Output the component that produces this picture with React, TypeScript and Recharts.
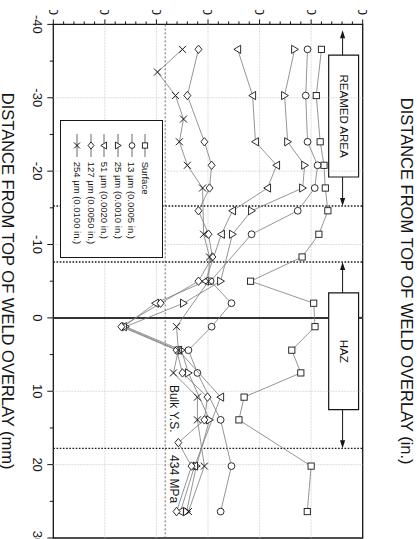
import React from 'react';
import {
  ComposedChart,
  Scatter,
  XAxis,
  YAxis,
  ReferenceLine,
  ReferenceArea,
  ReferenceDot,
  Legend,
} from 'recharts';

// measurement rows along the overlay (mm from top of weld overlay)
const POSITION_MM = [
  -36.6, -33.5, -30.3, -27.1, -24.0, -20.8, -17.7, -14.6, -11.4, -8.3,
  -5.0, -2.0, 1.2, 4.4, 7.5, 10.8, 13.9, 17.0, 20.2, 26.4,
];

// yield strength (MPa) per row, null = no measurement at that row
const SURFACE = [1040, null, 1020, null, 1035, 1050, 1055, 1065, 1030, 965, 765, 1010, 1015, 925, 960, 740, 720, null, 1000, 985];
const UM13 = [986, null, 979, null, 986, 1025, 1014, 948, 769, null, 610, 691, 614, 524, 559, null, 649, null, 691, 649];
const UM25 = [936, null, 897, null, 909, 975, 967, 769, 695, null, 649, 505, 280, 497, 524, null, 606, null, 555, 517];
const UM51 = [715, null, 773, null, 784, 866, 831, 695, 652, null, 590, 396, 272, 485, null, 649, null, null, 548, 493];
const UM127 = [563, null, 520, null, 586, 614, 606, 563, 602, 617, 563, 416, 264, 478, 501, 598, 586, 485, 536, 478];
const UM254 = [501, 404, 474, 505, 489, 520, 579, null, 583, 606, 602, null, 478, 485, 466, 559, 559, null, 586, 524];

const MM_TICKS = [-40, -35, -30, -25, -20, -15, -10, -5, 0, 5, 10, 15, 20, 25, 30];
const IN_TICKS = [-1.5, -1.25, -1.0, -0.75, -0.5, -0.25, 0, 0.25, 0.5, 0.75, 1.0];
const MPA_TICKS = Array.from({ length: 31 }, (_, i) => i * 40);

const GRID_MM = [-30, -20, -10, 10, 20];
const GRID_MPA = [200, 400, 600, 800, 1000];
const ZONE_LINES_MM = [-15.24, -7.62, 17.78];
const BULK_YS = 434;

// annotation boxes (mm range) and arrow tips
const REAMED = { from: -35.8, to: -19.2, tips: [-39.2, -15.24] };
const HAZ = { from: -3.4, to: 12.5, tips: [-7.62, 17.78] };
const BOX_MPA = [1068, 1184];
const ARROW_MPA = 1122;

const SERIES = [
  { name: 'Surface', values: SURFACE, marker: 'square' },
  { name: '13 µm (0.0005 in.)', values: UM13, marker: 'circle' },
  { name: '25 µm (0.0010 in.)', values: UM25, marker: 'up' },
  { name: '51 µm (0.0020 in.)', values: UM51, marker: 'down' },
  { name: '127 µm (0.0050 in.)', values: UM127, marker: 'diamond' },
  { name: '254 µm (0.0100 in.)', values: UM254, marker: 'x' },
];

const INK = '#161616';
const FONT = '"Liberation Sans", Arial, Helvetica, sans-serif';

function Marker({ kind, cx, cy, k = 1 }: { kind: string; cx: number; cy: number; k?: number }) {
  const st = { fill: '#fff', stroke: INK, strokeWidth: 0.9 };
  if (kind === 'square') {
    return <rect x={cx - 3.1 * k} y={cy - 3.1 * k} width={6.2 * k} height={6.2 * k} {...st} />;
  }
  if (kind === 'circle') return <circle cx={cx} cy={cy} r={3.4 * k} {...st} />;
  if (kind === 'up') {
    return <polygon points={`${cx},${cy - 3.8 * k} ${cx + 4.1 * k},${cy + 3 * k} ${cx - 4.1 * k},${cy + 3 * k}`} {...st} />;
  }
  if (kind === 'down') {
    return <polygon points={`${cx},${cy + 3.8 * k} ${cx + 4.1 * k},${cy - 3 * k} ${cx - 4.1 * k},${cy - 3 * k}`} {...st} />;
  }
  if (kind === 'diamond') {
    return <polygon points={`${cx},${cy - 3.5 * k} ${cx + 4.2 * k},${cy} ${cx},${cy + 3.5 * k} ${cx - 4.2 * k},${cy}`} {...st} />;
  }
  const h = 3.5 * k;
  return (
    <g stroke={INK} strokeWidth={1}>
      <line x1={cx - h} y1={cy - h} x2={cx + h} y2={cy + h} />
      <line x1={cx - h} y1={cy + h} x2={cx + h} y2={cy - h} />
    </g>
  );
}

const isMult = (v: number, step: number) => Math.abs(v / step - Math.round(v / step)) < 1e-6;

function MmTick({ x, y, payload }: any) {
  const v = payload.value;
  const major = isMult(v, 10);
  return (
    <g>
      <line x1={x} x2={x} y1={y} y2={y + (major ? 6 : 3.5)} stroke={INK} strokeWidth={1} />
      {major && (
        <text x={x} y={y + 20.6} textAnchor="middle" fontSize={13} fill={INK}>
          {v}
        </text>
      )}
    </g>
  );
}

function InchTick({ x, y, payload }: any) {
  const v = payload.value;
  const major = isMult(v, 0.5);
  return (
    <g>
      <line x1={x} x2={x} y1={y} y2={y - (major ? 6 : 3.5)} stroke={INK} strokeWidth={1} />
      {major && (
        <text x={x} y={y - 14.3} textAnchor="middle" fontSize={13} fill={INK}>
          {v.toFixed(1)}
        </text>
      )}
    </g>
  );
}

function StressTick({ x, y, payload }: any) {
  const v = payload.value;
  const major = isMult(v, 200);
  return (
    <g>
      <line x1={x} x2={x - (major ? 5 : 3)} y1={y} y2={y} stroke={INK} strokeWidth={1} />
      {major && (
        <text x={x - 9.5} y={y} dy="0.35em" textAnchor="end" fontSize={13} fill={INK}>
          {v}
        </text>
      )}
    </g>
  );
}

const arrowShape = (p: any) => {
  const { x1, y1, x2, y2 } = p;
  const d = Math.sign(x2 - x1);
  return (
    <g>
      <line x1={x1} y1={y1} x2={x2 - d * 5} y2={y2} stroke={INK} strokeWidth={1} />
      <path d={`M${x2},${y2} L${x2 - d * 8},${y2 - 2.6} L${x2 - d * 8},${y2 + 2.6} Z`} fill={INK} />
    </g>
  );
};

const renderLegend = () => (
  <div
    style={{
      boxSizing: 'border-box',
      width: 138,
      height: 103,
      border: `1.3px solid ${INK}`,
      background: '#fff',
      padding: '10px 0 0 12.7px',
      fontFamily: FONT,
    }}
  >
    {SERIES.map((s) => (
      <div key={s.name} style={{ display: 'flex', alignItems: 'center', height: 13.6 }}>
        <svg width={23} height={12} style={{ display: 'block' }}>
          <line x1={0} x2={23} y1={6} y2={6} stroke="#444" strokeWidth={0.8} />
          <Marker kind={s.marker} cx={11.5} cy={6} k={0.85} />
        </svg>
        <span style={{ marginLeft: 5, fontSize: 9.5, lineHeight: '13.6px', color: INK, whiteSpace: 'nowrap' }}>
          {s.name}
        </span>
      </div>
    ))}
  </div>
);

export default function App() {
  const seriesData = SERIES.map((s) => ({
    ...s,
    points: POSITION_MM.map((mm, i) => ({ mm, mpa: s.values[i] })).filter((p) => p.mpa !== null),
  }));

  return (
    <div
      style={{
        position: 'absolute',
        left: 0,
        top: 0,
        width: 417,
        height: 539,
        overflow: 'hidden',
        background: '#fff',
        fontFamily: FONT,
      }}
    >
      <div
        style={{
          position: 'absolute',
          left: 0,
          top: 0,
          width: 529,
          height: 417,
          overflow: 'hidden',
          transformOrigin: '0 0',
          transform: 'translate(417px, 10px) rotate(90deg)',
        }}
      >
        <ComposedChart width={529} height={417} margin={{ top: 0, right: 1, bottom: 0, left: 0 }}>
          <XAxis
            dataKey="mm"
            type="number"
            domain={[-40, 30]}
            ticks={MM_TICKS}
            interval={0}
            allowDataOverflow
            height={53.3}
            axisLine={false}
            tickLine={false}
            tickSize={0}
            tickMargin={0}
            tick={(p: any) => <MmTick {...p} />}
            label={{
              value: 'DISTANCE FROM TOP OF WELD OVERLAY (mm)',
              position: 'insideBottom',
              offset: 2,
              fontSize: 16.5,
              fill: INK,
            }}
          />
          <XAxis
            xAxisId="in"
            type="number"
            orientation="top"
            domain={[-40 / 25.4, 30 / 25.4]}
            ticks={IN_TICKS}
            interval={0}
            allowDataOverflow
            height={54.3}
            axisLine={false}
            tickLine={false}
            tickSize={0}
            tickMargin={0}
            tick={(p: any) => <InchTick {...p} />}
            label={{
              value: 'DISTANCE FROM TOP OF WELD OVERLAY (in.)',
              position: 'insideTop',
              offset: 4,
              fontSize: 16.5,
              fill: INK,
            }}
          />
          <YAxis
            dataKey="mpa"
            type="number"
            domain={[0, 1200]}
            ticks={MPA_TICKS}
            interval={0}
            allowDataOverflow
            width={14.4}
            axisLine={false}
            tickLine={false}
            tickSize={0}
            tickMargin={0}
            tick={(p: any) => <StressTick {...p} />}
          />

          {GRID_MM.map((v) => (
            <ReferenceLine key={`gx${v}`} x={v} stroke="#d2d2d2" strokeWidth={0.8} strokeDasharray="2 1" />
          ))}
          {GRID_MPA.map((v) => (
            <ReferenceLine key={`gy${v}`} y={v} stroke="#d2d2d2" strokeWidth={0.8} strokeDasharray="2 1" />
          ))}
          <ReferenceLine y={BULK_YS} stroke="#555" strokeWidth={0.9} strokeDasharray="2 2" />
          {ZONE_LINES_MM.map((v) => (
            <ReferenceLine key={`z${v}`} x={v} stroke={INK} strokeWidth={1.4} strokeDasharray="1.6 1.6" />
          ))}
          <ReferenceLine
            segment={[{ x: 0, y: 0 }, { x: 0, y: BOX_MPA[0] }]}
            stroke="#333"
            strokeWidth={2}
          />
          <ReferenceLine
            segment={[{ x: 0, y: BOX_MPA[1] }, { x: 0, y: 1200 }]}
            stroke="#333"
            strokeWidth={2}
          />

          {seriesData.map((s) => (
            <Scatter
              key={s.name}
              name={s.name}
              data={s.points}
              isAnimationActive={false}
              line={{ stroke: '#7a7a7a', strokeWidth: 0.8 }}
              lineType="joint"
              shape={(p: any) => <Marker kind={s.marker} cx={p.cx} cy={p.cy} />}
            />
          ))}

          {[REAMED, HAZ].map((a, i) => (
            <ReferenceLine
              key={`al${i}`}
              segment={[{ x: a.from, y: ARROW_MPA }, { x: a.tips[0], y: ARROW_MPA }]}
              shape={arrowShape}
            />
          ))}
          {[REAMED, HAZ].map((a, i) => (
            <ReferenceLine
              key={`ar${i}`}
              segment={[{ x: a.to, y: ARROW_MPA }, { x: a.tips[1], y: ARROW_MPA }]}
              shape={arrowShape}
            />
          ))}
          <ReferenceArea
            x1={REAMED.from}
            x2={REAMED.to}
            y1={BOX_MPA[0]}
            y2={BOX_MPA[1]}
            fill="#fff"
            fillOpacity={1}
            stroke={INK}
            strokeWidth={1.2}
            label={{ value: 'REAMED AREA', position: 'center', fontSize: 11.5, fill: INK }}
          />
          <ReferenceArea
            x1={HAZ.from}
            x2={HAZ.to}
            y1={BOX_MPA[0]}
            y2={BOX_MPA[1]}
            fill="#fff"
            fillOpacity={1}
            stroke={INK}
            strokeWidth={1.2}
            label={{ value: 'HAZ', position: 'center', fontSize: 11.5, fill: INK }}
          />
          <ReferenceDot
            x={9.14}
            y={BULK_YS}
            r={0}
            shape={(p: any) => (
              <text x={p.cx} y={p.cy - 4.8} fontSize={12} fill={INK}>
                Bulk Y.S.
              </text>
            )}
          />
          <ReferenceDot
            x={18.7}
            y={BULK_YS}
            r={0}
            shape={(p: any) => (
              <text x={p.cx} y={p.cy - 4.8} fontSize={12} fill={INK}>
                434 MPa
              </text>
            )}
          />
          <ReferenceArea
            x1={-40}
            x2={30}
            y1={0}
            y2={1200}
            fill="none"
            stroke={INK}
            strokeWidth={1.3}
          />
          <Legend
            layout="vertical"
            align="center"
            verticalAlign="middle"
            content={renderLegend}
            wrapperStyle={{ left: 110, top: 254, width: 138, height: 103 }}
          />
        </ComposedChart>
      </div>
    </div>
  );
}
